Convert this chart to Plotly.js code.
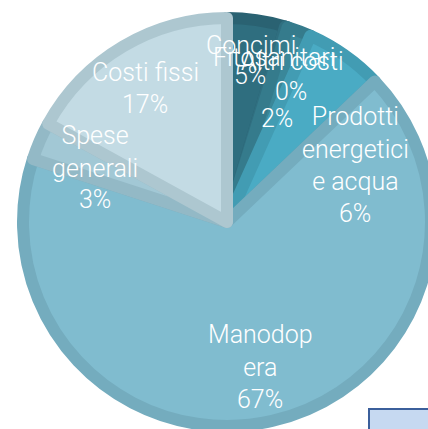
<!DOCTYPE html>
<html>
<head>
<meta charset="utf-8">
<script src="https://cdn.plot.ly/plotly-3.0.1.min.js"></script>
<style>
html,body{margin:0;padding:0;overflow:hidden;background:#fff;width:428px;height:429px;}
#chart{width:460px;height:460px;}
</style>
</head>
<body>
<div id="chart"></div>
<script>
// Data (shares of total cost, %)
var categories = ["Concimi", "Fitosanitari", "Altri costi", "Prodotti energetici e acqua", "Manodopera", "Spese generali", "Costi fissi"];
var values = [4.6, 0.2, 1.9, 6.2, 67.1, 3.0, 17.0];
// Label text as wrapped in the picture
var labelText = ["Concimi", "Fitosanitari", "Altri costi", "Prodotti<br>energetici<br>e acqua", "Manodop<br>era", "Spese<br>generali", "Costi fissi"];
var fillColors  = ["#2f6e7f", "#34788a", "#3a8799", "#4aabc4", "#80bccf", "#a2c8d5", "#c3dbe4"];
var edgeColors  = ["#2a6272", "#306f80", "#357b8c", "#429cb3", "#74acbe", "#93b9c6", "#adc7d0"];

var W = 460, H = 460;
var cx = 227, cy = 222, r = 204;

var total = values.reduce(function(a, b){ return a + b; }, 0);
function pct(v){ return Math.round(v / total * 100) + "%"; }

var trace = {
  type: "pie",
  labels: categories,
  values: values,
  sort: false,
  direction: "clockwise",
  rotation: 0,
  textinfo: "none",
  hoverinfo: "label+percent",
  marker: { colors: fillColors, line: { color: edgeColors, width: 12 } },
  domain: { x: [(cx - r) / W, (cx + r) / W], y: [1 - (cy + r) / H, 1 - (cy - r) / H] },
  showlegend: false
};

// label placement (pixel positions of text block centres)
var labelPos = [
  {name: 0, x: 251, y: 46, pctX: 250, pctY: 76},
  {name: 1, x: 274, y: 58, pctX: 291, pctY: 92},
  {name: 2, x: 292, y: 61, pctX: 277, pctY: 118},
  {name: 3, x: 355, y: 149, pctX: 355, pctY: 213},
  {name: 4, x: 260, y: 351, pctX: 260, pctY: 399},
  {name: 5, x: 95, y: 152, pctX: 95, pctY: 200},
  {name: 6, x: 145, y: 72, pctX: 145, pctY: 104}
];
var font = { family: "Roboto, 'Open Sans', sans-serif", size: 25, color: "#ffffff", weight: 300 };
var annotations = [];
labelPos.forEach(function(p){
  var i = p.name;
  annotations.push({ xref: "paper", yref: "paper", x: p.x / W, y: 1 - p.y / H, text: labelText[i],
    showarrow: false, font: font, xanchor: "center", yanchor: "middle", align: "center" });
  annotations.push({ xref: "paper", yref: "paper", x: p.pctX / W, y: 1 - p.pctY / H, text: pct(values[i]),
    showarrow: false, font: font, xanchor: "center", yanchor: "middle", align: "center" });
});

var layout = {
  width: W, height: H,
  margin: { l: 0, r: 0, t: 0, b: 0 },
  paper_bgcolor: "#ffffff",
  showlegend: false,
  annotations: annotations,
  shapes: [
    { type: "rect", xref: "paper", yref: "paper", x0: 369 / W, x1: 470 / W, y0: 1 - 470 / H, y1: 1 - 409 / H,
      fillcolor: "#c6d9f1", line: { color: "#3b5f9b", width: 2 } }
  ]
};

Plotly.newPlot("chart", [trace], layout, { displayModeBar: false, staticPlot: true });
</script>
</body>
</html>
